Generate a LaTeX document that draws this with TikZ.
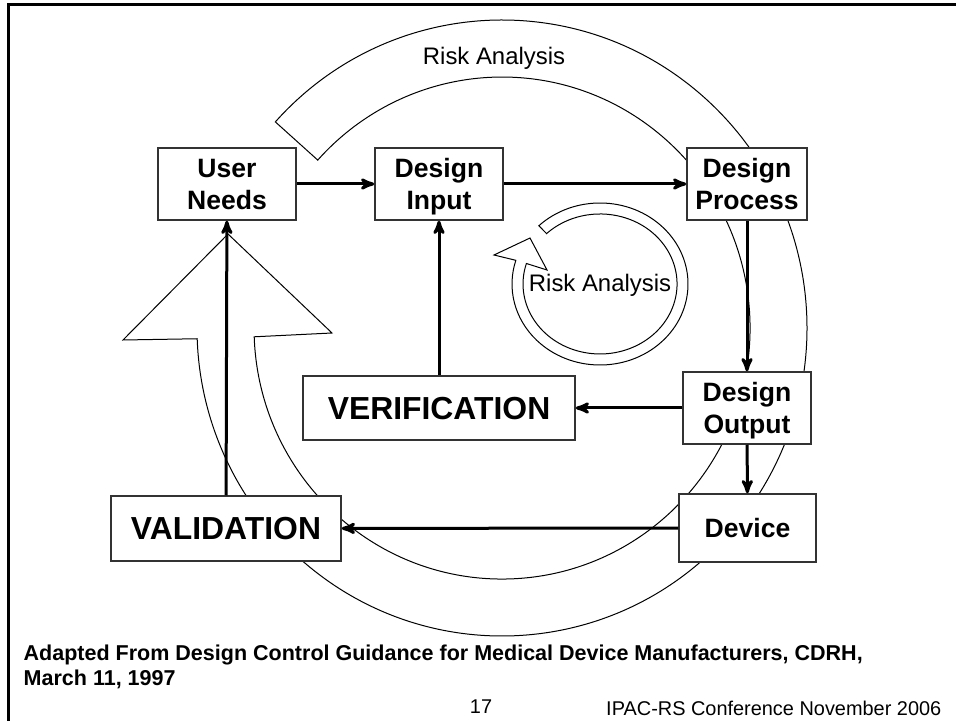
\documentclass[tikz,border=0pt]{standalone}
\usepackage{fontspec}
\setmainfont{Liberation Sans}
\usetikzlibrary{arrows}
\newdimen\px \px=0.7531pt

\begin{document}
\begin{tikzpicture}[x=\px,y=-\px,>=stealth',
  box/.style={draw=black!80,line width=1.5\px,fill=white,inner sep=0pt,align=center,text depth=0pt,
    font=\fontsize{20}{24}\selectfont\bfseries},
  bigbox/.style={box,font=\fontsize{24}{28}\selectfont\bfseries},
  link/.style={->,line width=3\px},
  band/.style={draw=black,line width=1\px,fill=white},
  label/.style={font=\fontsize{18}{21}\selectfont}]
\useasboundingbox (0,0) rectangle (956,721);
\draw[line width=3\px] (8,721) -- (8,5) -- (956,5);
\draw[band] (502,328) ++(-138:305 and 308) arc[start angle=-138,end angle=178,x radius=305,y radius=308]
  -- (123,340) -- (228,234) -- (332,333) -- (254.2,336.8)
  arc[start angle=178,end angle=-138,x radius=248,y radius=251] -- cycle;
\draw[band] (600,284) ++(-134:88 and 81) arc[start angle=-134,end angle=197,x radius=88,y radius=81]
  -- (494,255) -- (530,238) -- (547,270) -- (526.4,263.5)
  arc[start angle=197,end angle=-134,x radius=77,y radius=70] -- cycle;
\node[label](toprisk)at(494,58){Risk Analysis};
\node[label](looprisk)at(600,285){Risk Analysis};
\node[box,minimum width=138\px,minimum height=72\px](needs)at(227,184){User\\Needs};
\node[box,minimum width=128\px,minimum height=72\px](input)at(439,184){Design\\Input};
\node[box,minimum width=120\px,minimum height=72\px](process)at(747,184){Design\\Process};
\node[box,minimum width=128\px,minimum height=72\px](output)at(747,408){Design\\Output};
\node[bigbox,minimum width=272\px,minimum height=64\px](verif)at(439,408){VERIFICATION};
\node[box,minimum width=137\px,minimum height=68\px](device)at(747.5,528){Device};
\node[bigbox,minimum width=230\px,minimum height=65\px](valid)at(226,528.5){VALIDATION};
\path[link](needs) edge (input)
  (input) edge (process)
  (process) edge (output)
  (output) edge (verif)
  (output) edge (device)
  (device) edge (valid)
  (valid) edge (needs)
  (verif) edge (input);
\node[anchor=west,align=left,font=\fontsize{16.2}{18.6}\selectfont\bfseries](source)at(19,667){Adapted From Design Control Guidance for Medical Device Manufacturers, CDRH,\\March 11, 1997};
\node[font=\fontsize{15}{17}\selectfont](page)at(481,707){17};
\node[anchor=east,font=\fontsize{15}{17}\selectfont](conf)at(946,708){IPAC-RS Conference November 2006};
\end{tikzpicture}
\end{document}
